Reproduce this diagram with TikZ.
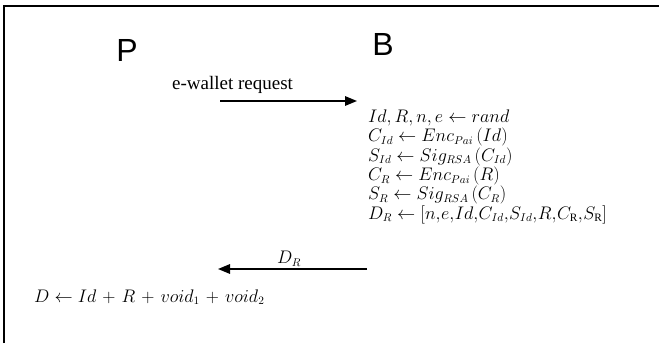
\RequirePackage{fix-cm}
\documentclass[tikz,border=0pt]{standalone}
\usepackage{amsmath}
\usepackage{fontspec}
\setmainfont{Liberation Serif}
\newfontfamily\partyfont{Liberation Sans}
\DeclareMathSizes{18.2}{18.2}{11.3}{9}
\usetikzlibrary{arrows.meta}
\usetikzlibrary{positioning}

\begin{document}
\begin{tikzpicture}[x=1pt, y=-1pt, inner sep=0pt,
    party/.style = {font=\partyfont\fontsize{32}{32}\selectfont},
    msg/.style = {line width=1.6pt, -{Triangle[length=12pt, width=9.5pt]}},
    calc/.style = {font=\fontsize{18.2}{19.4}\selectfont}]
    \useasboundingbox (0,0) rectangle (659,343);
    \draw[line width=2pt] (4,343) |- (659,6);

    \node[party] (P) at (127,50) {P};
    \node[party] (B) at (383,44) {B};

    \coordinate (req from) at (220,101);
    \coordinate (req to) at (357,101);
    \draw[msg] (req from) -- (req to);
    \node[anchor=base west, font=\fontsize{19}{19}\selectfont] (req) at (172,89) {e-wallet request};

    % what B works out before it answers
    \node[calc, align=left, anchor=north west] (steps) at (368,109.4) {%
        $Id,R,n,e \leftarrow rand$\\
        $C_{Id} \leftarrow Enc_{Pai}\,(Id)$\\
        $S_{Id} \leftarrow Sig_{RSA}\,(C_{Id})$\\
        $C_{R} \leftarrow Enc_{Pai}\,(R)$\\
        $S_{R} \leftarrow Sig_{RSA}\,(C_{R})$\\
        \thinmuskip=0.5mu $D_{R} \leftarrow [n,e,Id,C_{Id},S_{Id},R,C_{\mathrm{R}},S_{\mathrm{R}}]$};

    \coordinate (dr from) at (367,269);
    \coordinate (dr to) at (218,269);
    \draw[msg] (dr from) -- (dr to);
    \node[calc] (dr) at (289,259) {$D_R$};

    \node[calc, anchor=base west] (sum) at (34,302) {\medmuskip=6mu $D \leftarrow Id + R + void_1 + void_2$};
\end{tikzpicture}
\end{document}
